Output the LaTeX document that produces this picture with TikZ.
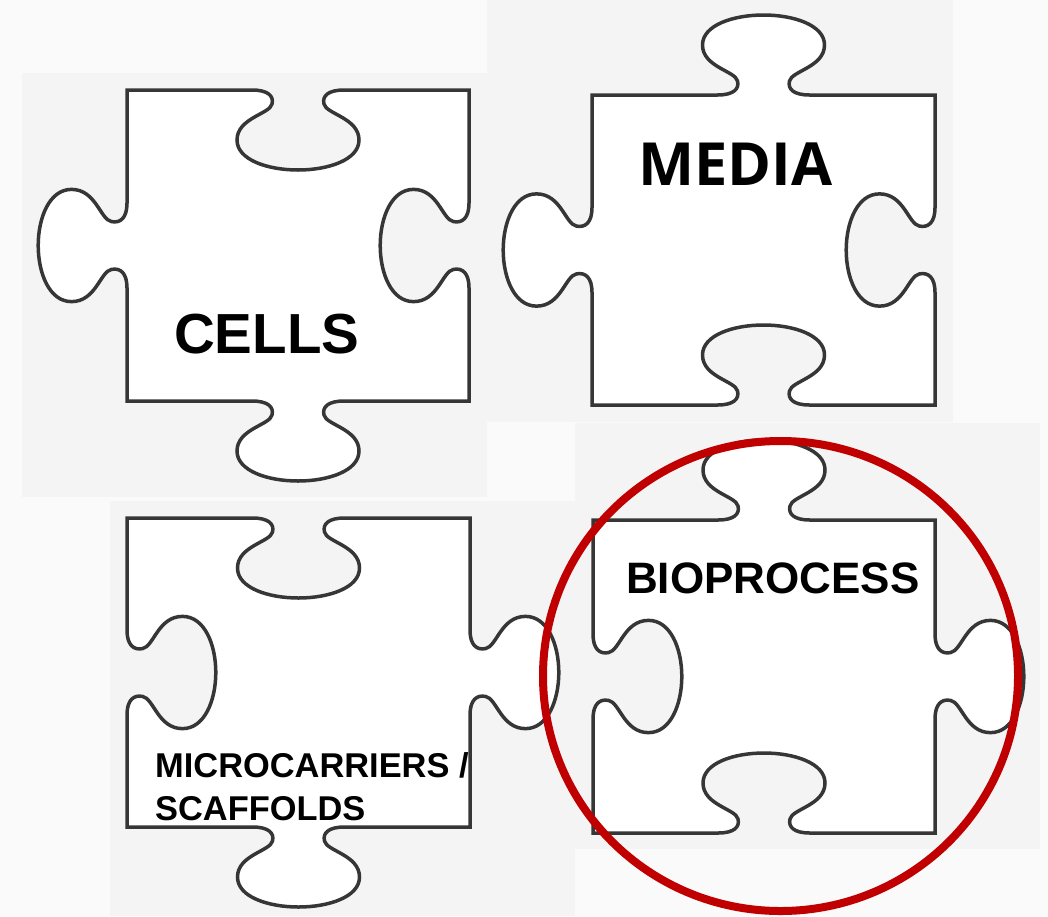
\documentclass[tikz,border=0pt]{standalone}
\usepackage{fontspec}
\setmainfont{Liberation Sans}
\newfontfamily\osans{Open Sans}
\definecolor{bgpage}{HTML}{FAFAFA}
\definecolor{bgtile}{HTML}{F4F4F4}
\definecolor{outline}{HTML}{363636}
\definecolor{ringred}{HTML}{C00000}
\def\pzltab{-- (-46,0) .. controls (-30,0) and (-24,6) .. (-26,14) .. controls (-28,24) and (-61,28) .. (-61,50) .. controls (-61,70) and (-30,80) .. (0,80) .. controls (30,80) and (61,70) .. (61,50) .. controls (61,28) and (28,24) .. (26,14) .. controls (24,6) and (30,0) .. (46,0)}
% #1 x1, #2 y1, #3 x2, #4 y2, #5 top scale, #6 right scale, #7 bottom scale, #8 left scale
\newcommand\pzlpiece[8]{%
  \path[piece] (#1,#2)
    {[shift={({(#1+#3)/2},#2)}, yscale=#5] \pzltab} -- (#3,#2)
    {[shift={(#3,{(#2+#4)/2})}, rotate=90, xscale=0.92, yscale=#6] \pzltab} -- (#3,#4)
    {[shift={({(#1+#3)/2},#4)}, rotate=180, yscale=#7] \pzltab} -- (#1,#4)
    {[shift={(#1,{(#2+#4)/2})}, rotate=270, xscale=0.92, yscale=#8] \pzltab} -- cycle;}
\tikzset{
  piece/.style={draw=outline, fill=white, line width=3.5pt},
  tile/.style={fill=bgtile},
  lbl/.style={inner sep=0pt, anchor=base west, text=black},
  ring/.style={draw=ringred, line width=8pt}
}
\begin{document}
\begin{tikzpicture}[x=1pt, y=1pt, yscale=-1]
\useasboundingbox (0,0) rectangle (1048,916);
\fill[bgpage] (0,0) rectangle (1048,916);
% tile backgrounds
\fill[tile] (22,73) rectangle (487,497);
\fill[tile] (487,0) rectangle (953,422);
\fill[tile] (110,501) rectangle (575,916);
\fill[tile] (575,423) rectangle (1040,849);
% pieces (tab = -1 / -1.11, hole = 1 / 1.11)
\pzlpiece{127}{90}{469}{401}{1}{1.11}{-1}{-1.11}
\pzlpiece{592}{95}{935}{405}{-1}{1.11}{1}{-1.11}
\pzlpiece{127}{518}{470}{827}{1}{-1.11}{-1}{1.11}
\pzlpiece{593}{520}{935}{833}{-1}{-1.11}{1}{1.11}
% labels
\node[lbl, font=\bfseries\fontsize{56.5}{60}\selectfont] (cells) at (174,353) {CELLS};
\node[lbl, font=\osans\bfseries\fontsize{59.5}{64}\selectfont] (media) at (638,185) {MEDIA};
\node[lbl, font=\bfseries\fontsize{44}{48}\selectfont] (bio) at (626,593) {BIOPROCESS};
\node[lbl, font=\bfseries\fontsize{34.4}{40}\selectfont] (micro) at (155,777) {MICROCARRIERS /};
\node[lbl, font=\bfseries\fontsize{34.4}{40}\selectfont] (scaf) at (155,820) {SCAFFOLDS};
% highlight ring
\draw[ring] (780.5,676) ellipse [x radius=237.5, y radius=235];
\end{tikzpicture}
\end{document}
